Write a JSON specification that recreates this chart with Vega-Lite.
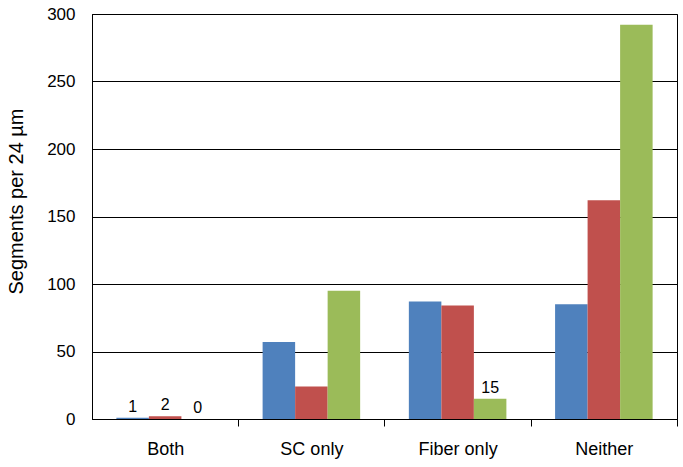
{
  "$schema": "https://vega.github.io/schema/vega-lite/v6.json",
  "width": 585,
  "height": 405,
  "autosize": {"type": "none"},
  "padding": {"left": 92, "top": 14, "right": 6, "bottom": 48},
  "background": "white",
  "config": {
    "font": "Liberation Sans",
    "view": {"stroke": "black", "strokeWidth": 1}
  },
  "data": {
    "values": [
      {"category": "Both", "series": "Series 1", "value": 1, "label": "1"},
      {"category": "Both", "series": "Series 2", "value": 2, "label": "2"},
      {"category": "Both", "series": "Series 3", "value": 0, "label": "0"},
      {"category": "SC only", "series": "Series 1", "value": 57},
      {"category": "SC only", "series": "Series 2", "value": 24},
      {"category": "SC only", "series": "Series 3", "value": 95},
      {"category": "Fiber only", "series": "Series 1", "value": 87},
      {"category": "Fiber only", "series": "Series 2", "value": 84},
      {"category": "Fiber only", "series": "Series 3", "value": 15, "label": "15"},
      {"category": "Neither", "series": "Series 1", "value": 85},
      {"category": "Neither", "series": "Series 2", "value": 162},
      {"category": "Neither", "series": "Series 3", "value": 292}
    ]
  },
  "encoding": {
    "x": {
      "field": "category",
      "type": "nominal",
      "sort": ["Both", "SC only", "Fiber only", "Neither"],
      "scale": {"paddingInner": 0.333, "paddingOuter": 0.1667},
      "axis": {
        "title": null,
        "labelAngle": 0,
        "labelFontSize": 18,
        "labelColor": "black",
        "labelPadding": 14,
        "tickOffset": 73.1,
        "labelOffset": -73.1,
        "tickSize": 7,
        "tickColor": "black",
        "domainColor": "black",
        "grid": false
      }
    },
    "xOffset": {"field": "series", "type": "nominal", "sort": ["Series 1", "Series 2", "Series 3"]},
    "y": {
      "field": "value",
      "type": "quantitative",
      "scale": {"domain": [0, 300], "nice": false},
      "axis": {
        "title": "Segments per 24 µm",
        "titleFontSize": 20,
        "titleFontWeight": "normal",
        "titleColor": "black",
        "titlePadding": 20,
        "titleY": 187,
        "values": [0, 50, 100, 150, 200, 250, 300],
        "labelFontSize": 17,
        "labelColor": "black",
        "labelPadding": 17,
        "ticks": false,
        "domainColor": "black",
        "grid": true,
        "gridColor": "black",
        "gridOpacity": 1
      }
    }
  },
  "layer": [
    {
      "mark": {"type": "bar"},
      "encoding": {
        "color": {
          "field": "series",
          "type": "nominal",
          "scale": {"domain": ["Series 1", "Series 2", "Series 3"], "range": ["#4F81BD", "#C0504D", "#9BBB59"]},
          "legend": null
        }
      }
    },
    {
      "transform": [{"filter": "isValid(datum.label)"}],
      "mark": {"type": "text", "baseline": "alphabetic", "dy": -6, "fontSize": 16, "color": "black"},
      "encoding": {"text": {"field": "label"}}
    }
  ]
}
